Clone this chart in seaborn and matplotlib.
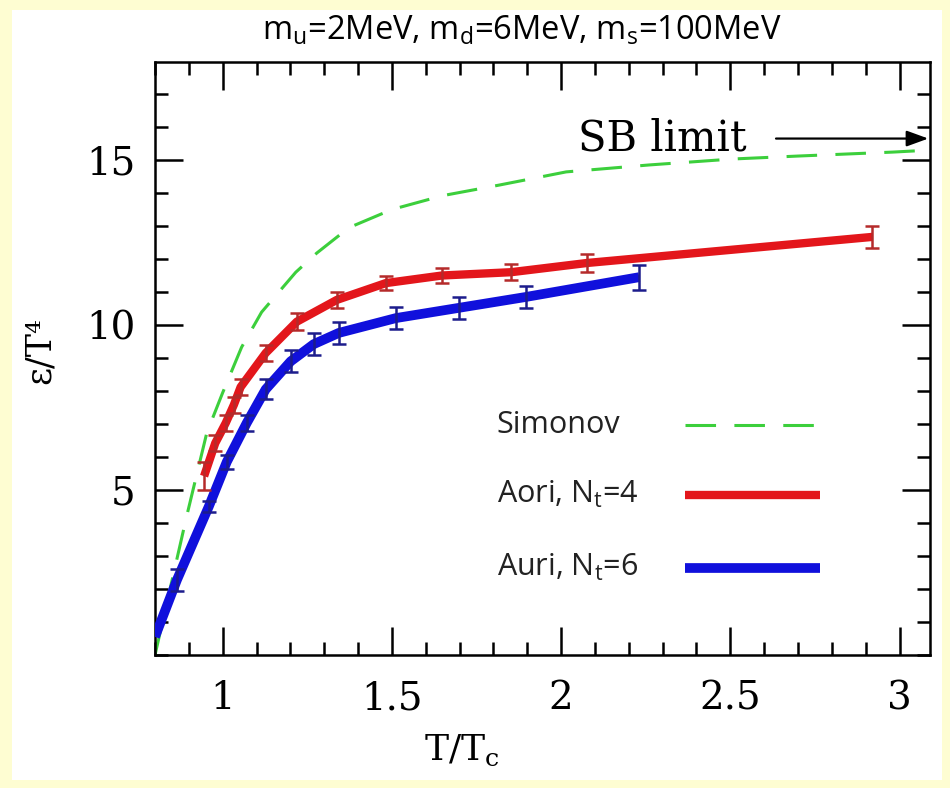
import matplotlib
matplotlib.use("Agg")
import matplotlib.pyplot as plt
import seaborn as sns
from matplotlib.ticker import MultipleLocator, FixedLocator
from matplotlib.patches import Rectangle
from matplotlib.lines import Line2D

# ---------------- data ----------------
aori_x = [0.945, 0.978, 1.009, 1.033, 1.053, 1.127, 1.219, 1.337, 1.482, 1.648, 1.852, 2.077, 2.920]
aori_y = [5.42, 6.42, 7.03, 7.58, 8.12, 9.15, 10.10, 10.76, 11.27, 11.50, 11.60, 11.88, 12.67]
aori_err = [0.42, 0.25, 0.25, 0.25, 0.25, 0.25, 0.25, 0.25, 0.22, 0.22, 0.25, 0.28, 0.33]

auri_x = [0.80, 0.865, 0.959, 1.012, 1.071, 1.127, 1.201, 1.269, 1.343, 1.512, 1.698, 1.896, 2.231]
auri_y = [0.55, 2.28, 4.50, 5.85, 7.03, 8.05, 8.90, 9.42, 9.76, 10.21, 10.52, 10.85, 11.45]
auri_err = [0.0, 0.33, 0.18, 0.20, 0.25, 0.30, 0.33, 0.33, 0.33, 0.33, 0.33, 0.33, 0.38]

simonov_x = [0.80, 0.893, 0.953, 1.0, 1.056, 1.115, 1.216, 1.278, 1.373, 1.50, 1.65, 1.817, 2.015, 2.26, 2.506, 2.70, 2.98, 3.09]
simonov_y = [0.0, 4.18, 6.73, 7.95, 9.33, 10.39, 11.6, 12.18, 12.95, 13.5, 13.92, 14.24, 14.64, 14.85, 15.03, 15.12, 15.24, 15.3]

x_major = [1, 1.5, 2, 2.5, 3]
x_labels = ["1", "1.5", "2", "2.5", "3"]
y_major = [5, 10, 15]
y_labels = ["5", "10", "15"]

title_text = "m$_\\mathregular{u}$=2MeV, m$_\\mathregular{d}$=6MeV, m$_\\mathregular{s}$=100MeV"
legend_labels = ["Simonov", "Aori, N$_\\mathregular{t}$=4", "Auri, N$_\\mathregular{t}$=6"]

# ---------------- style ----------------
sns.set_theme(style="ticks")
plt.rcParams['font.family'] = ['DejaVu Serif', 'DejaVu Sans']
plt.rcParams['text.color'] = 'black'
plt.rcParams['axes.labelcolor'] = 'black'
plt.rcParams['xtick.color'] = 'black'
plt.rcParams['ytick.color'] = 'black'

RED = "#e3161b"
RED_ERR = "#b52a2a"
BLUE = "#1010dc"
BLUE_ERR = "#1c1c8c"
GREEN = "#3ccf3c"
SANS = ['Open Sans', 'DejaVu Sans']

fig = plt.figure(figsize=(9.5, 7.88), dpi=100)
fig.patch.set_facecolor("#fefdd2")
fig.patches.append(Rectangle((12 / 950, 8 / 788), 930 / 950, 770 / 788,
                             transform=fig.transFigure, facecolor="white",
                             edgecolor="none", zorder=-10))

ax = fig.add_axes([155 / 950, 1 - 655 / 788, 775 / 950, 593 / 788])
ax.set_zorder(5)
ax.set_facecolor("white")

dash = (0, (10, 6))
sns.lineplot(x=simonov_x, y=simonov_y, ax=ax, color=GREEN, linewidth=2.2,
             linestyle=dash, sort=False, zorder=2)
sns.lineplot(x=aori_x, y=aori_y, ax=ax, color=RED, linewidth=6, sort=False, zorder=3,
             solid_capstyle="butt", solid_joinstyle="round")
sns.lineplot(x=auri_x, y=auri_y, ax=ax, color=BLUE, linewidth=7, sort=False, zorder=3,
             solid_capstyle="butt", solid_joinstyle="round")

ax.errorbar(aori_x, aori_y, yerr=aori_err, fmt="none", ecolor=RED_ERR,
            elinewidth=1.8, capsize=5, capthick=1.8, zorder=4)
ax.errorbar(auri_x[1:], auri_y[1:], yerr=auri_err[1:], fmt="none", ecolor=BLUE_ERR,
            elinewidth=1.8, capsize=5, capthick=1.8, zorder=4)

ax.set_xlim(0.8, 3.09)
ax.set_ylim(0, 17.97)
ax.xaxis.set_major_locator(FixedLocator(x_major))
ax.set_xticklabels(x_labels)
ax.xaxis.set_minor_locator(MultipleLocator(0.1))
ax.yaxis.set_major_locator(FixedLocator(y_major))
ax.set_yticklabels(y_labels)
ax.yaxis.set_minor_locator(MultipleLocator(1))

ax.tick_params(which="both", direction="in", top=True, right=True, width=1.8,
               color="black", labelcolor="black")
ax.tick_params(which="major", length=20)
ax.tick_params(which="minor", length=9.5)
ax.tick_params(axis="x", which="major", pad=18, labelsize=28)
ax.tick_params(axis="y", which="major", pad=14, labelsize=28)
for s in ax.spines.values():
    s.set_linewidth(1.8)
    s.set_color("black")
    s.set_visible(True)

ax.set_xlabel("T/T$_\\mathregular{c}$", fontsize=26)
ax.xaxis.set_label_coords((462 - 155) / 775, (655 - 733) / 593)
ax.set_ylabel("ε/T⁴", fontsize=25)
ax.yaxis.set_label_coords((57 - 155) / 775, (655 - 350) / 593)

fig.text(522 / 950, 1 - 30 / 788, title_text, ha="center", va="center",
         fontsize=23.5, family=SANS)

# SB limit annotation
ax.text(2.05, 15.65, "SB limit", fontsize=30, ha="left", va="center")
ax.annotate("", xy=(3.085, 15.65), xytext=(2.635, 15.65),
            arrowprops=dict(arrowstyle="-|>,head_length=1.1,head_width=0.4",
                            color="black", lw=1.6, shrinkA=0, shrinkB=0))

# legend (text on the left, sample line on the right)
rows = [(0.388, GREEN, dash, 2.2), (0.270, RED, "-", 6), (0.147, BLUE, "-", 7)]
for (yy, col, ls, lw), lab in zip(rows, legend_labels):
    ax.text(0.441, yy, lab, transform=ax.transAxes, fontsize=22, family=SANS,
            ha="left", va="center", color="#222222")
    ax.add_line(Line2D([0.684, 0.858], [yy, yy], transform=ax.transAxes,
                       color=col, linestyle=ls, linewidth=lw, solid_capstyle="butt"))

fig.savefig("out.png", dpi=100, facecolor=fig.get_facecolor())
